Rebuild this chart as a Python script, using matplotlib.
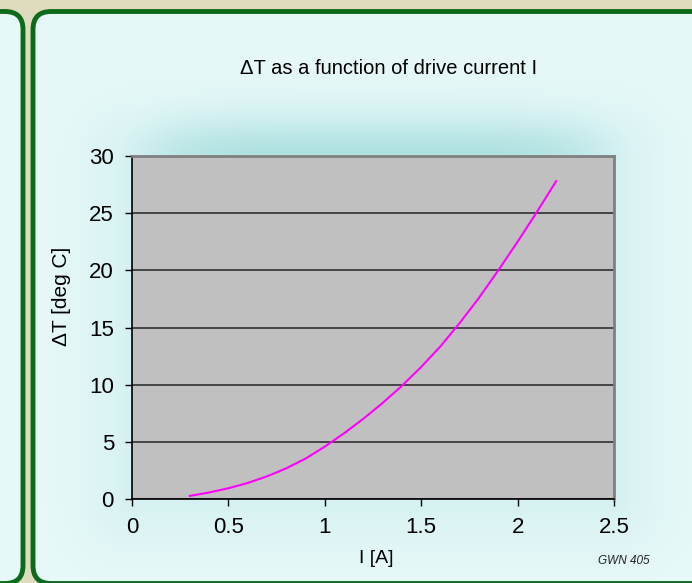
import numpy as np
import matplotlib
matplotlib.use('Agg')
import matplotlib.pyplot as plt
from matplotlib.patches import FancyBboxPatch
from matplotlib.colors import to_rgb

plt.rcParams['font.family'] = ['Liberation Sans', 'DejaVu Sans']

# drive current [A] and temperature rise [deg C]
current = [0.3, 0.4, 0.5, 0.6, 0.7, 0.8, 0.9, 1.0, 1.1, 1.2, 1.3,
           1.4, 1.5, 1.6, 1.7, 1.8, 1.9, 2.0, 2.1, 2.2]
delta_t = [0.27, 0.57, 0.94, 1.40, 1.98, 2.68, 3.53, 4.58, 5.75, 7.02, 8.40,
           9.90, 11.55, 13.35, 15.40, 17.60, 20.0, 22.5, 25.1, 27.8]

x_ticks = [0, 0.5, 1, 1.5, 2, 2.5]
x_tick_labels = ['0', '0.5', '1', '1.5', '2', '2.5']
y_ticks = [0, 5, 10, 15, 20, 25, 30]

W, H = 692, 583
BEIGE = '#dfdcbe'
GREEN = '#0b6b1a'
BASE = '#e6f8f8'
GLOW = '#afe1e1'

fig = plt.figure(figsize=(W / 100, H / 100), dpi=100, facecolor=BEIGE)

# background layer in pixel coordinates
bg = fig.add_axes([0, 0, 1, 1])
bg.set_xlim(0, W)
bg.set_ylim(H, 0)
bg.axis('off')

box = 'round,pad=0,rounding_size=18'
left_panel = FancyBboxPatch((-60, 11.5), 83, 572, boxstyle=box,
                            facecolor=BASE, edgecolor=GREEN, lw=3.5, zorder=1)
right_panel = FancyBboxPatch((33, 11.5), 760, 572, boxstyle=box,
                             facecolor=BASE, edgecolor='none', zorder=1)
bg.add_patch(left_panel)
bg.add_patch(right_panel)

# soft cyan glow around the plot area
px0, px1, py0, py1 = 132, 614, 156, 499
xx, yy = np.meshgrid(np.arange(W) + 0.5, np.arange(H) + 0.5)
dx = np.maximum(np.maximum(px0 - xx, xx - px1), 0)
dy = np.maximum(np.maximum(py0 - yy, yy - py1), 0)
dist = np.hypot(dx, dy)
side = 0.3 * np.clip(1 - dist / 90, 0, 1) ** 1.5
top = np.exp(-((xx - 375) / 240) ** 6) * np.exp(-((yy - 158) / 42) ** 2)
top = np.where(yy < py0 + 5, top, 0)
strength = np.clip(np.maximum(side, top), 0, 1)[..., None]
img = np.array(to_rgb(BASE)) * (1 - strength) + np.array(to_rgb(GLOW)) * strength
im = bg.imshow(img, extent=(0, W, H, 0), zorder=2, interpolation='bilinear')
im.set_clip_path(right_panel)

right_border = FancyBboxPatch((33, 11.5), 760, 572, boxstyle=box,
                              facecolor='none', edgecolor=GREEN, lw=3.5, zorder=3)
bg.add_patch(right_border)

bg.text(389, 68, '\u0394T as a function of drive current I', ha='center', va='center',
        fontsize=14.5, color='black', zorder=4)
bg.text(624, 561, 'GWN 405', ha='center', va='center', fontsize=8.5,
        style='italic', color='#222222', zorder=4)

# chart
ax = fig.add_axes([px0 / W, 1 - py1 / H, (px1 - px0) / W, (py1 - py0) / H])
ax.set_facecolor('#c0c0c0')
ax.plot(current, delta_t, color='#ff00ff', lw=1.5, zorder=3)

ax.set_xlim(0, 2.5)
ax.set_ylim(0, 30)
ax.set_xticks(x_ticks)
ax.set_xticklabels(x_tick_labels)
ax.set_yticks(y_ticks)
ax.yaxis.grid(True, color='#303030', lw=1.2)
ax.set_axisbelow(True)

for s in ('top', 'right'):
    ax.spines[s].set_color('#808080')
    ax.spines[s].set_linewidth(2)
for s in ('left', 'bottom'):
    ax.spines[s].set_color('black')
    ax.spines[s].set_linewidth(1.2)

ax.tick_params(direction='out', length=5, width=1, labelsize=16, colors='black', pad=8)
ax.set_xlabel('I [A]', fontsize=14)
ax.xaxis.set_label_coords(0.507, -0.15)
ax.set_ylabel('\u0394T [deg C]', fontsize=15)
ax.yaxis.set_label_coords(-0.127, 0.59)

fig.savefig('out.png', dpi=100, facecolor=BEIGE)
